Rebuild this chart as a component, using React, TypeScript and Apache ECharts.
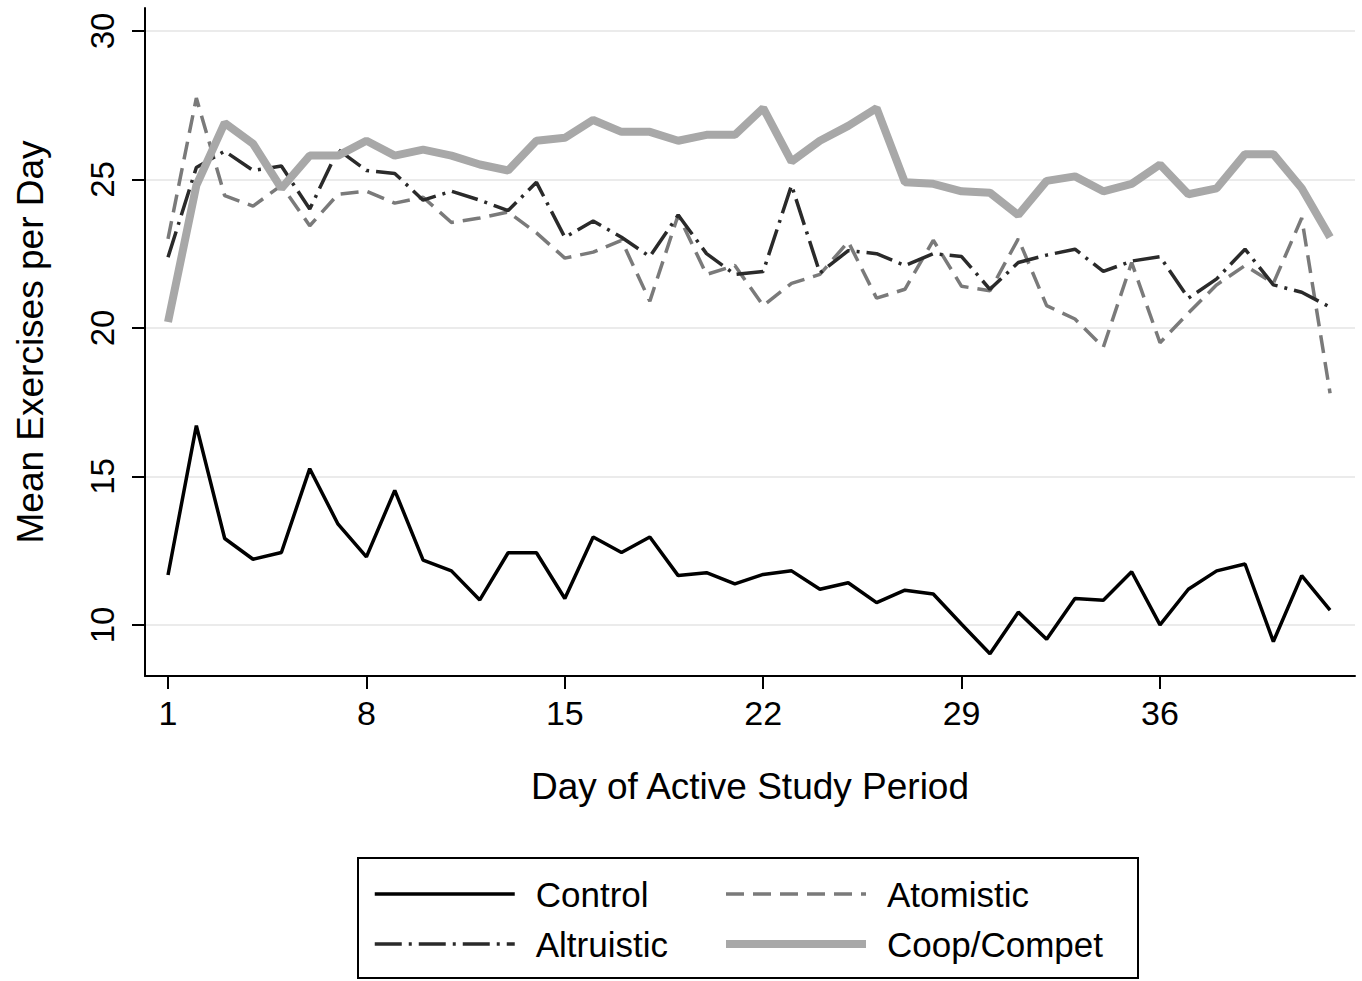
import React, { useEffect, useRef } from "react";
import * as echarts from "echarts";

const days = [1, 2, 3, 4, 5, 6, 7, 8, 9, 10, 11, 12, 13, 14, 15, 16, 17, 18, 19, 20, 21, 22, 23, 24, 25, 26, 27, 28, 29, 30, 31, 32, 33, 34, 35, 36, 37, 38, 39, 40, 41, 42];
const control = [11.68, 16.71, 12.91, 12.21, 12.44, 15.26, 13.39, 12.29, 14.53, 12.18, 11.82, 10.84, 12.43, 12.43, 10.89, 12.96, 12.44, 12.96, 11.66, 11.76, 11.38, 11.7, 11.82, 11.2, 11.42, 10.75, 11.17, 11.04, 10.02, 9.03, 10.43, 9.52, 10.89, 10.83, 11.79, 10.0, 11.2, 11.82, 12.05, 9.44, 11.66, 10.5];
const atomistic = [23.0, 27.74, 24.45, 24.1, 24.8, 23.44, 24.5, 24.6, 24.2, 24.4, 23.55, 23.7, 23.9, 23.2, 22.35, 22.55, 22.95, 20.9, 23.8, 21.8, 22.1, 20.75, 21.5, 21.8, 22.9, 21.0, 21.3, 22.95, 21.4, 21.25, 23.0, 20.75, 20.3, 19.35, 22.2, 19.5, 20.5, 21.45, 22.1, 21.5, 23.7, 17.8];
const altruistic = [22.38, 25.4, 25.95, 25.3, 25.45, 24.0, 26.0, 25.3, 25.2, 24.3, 24.6, 24.3, 23.95, 24.9, 23.05, 23.6, 23.05, 22.4, 23.8, 22.5, 21.8, 21.9, 24.8, 21.85, 22.6, 22.5, 22.1, 22.5, 22.4, 21.3, 22.2, 22.45, 22.65, 21.9, 22.25, 22.4, 21.0, 21.65, 22.65, 21.45, 21.2, 20.7];
const coop = [20.2, 24.8, 26.9, 26.2, 24.7, 25.8, 25.8, 26.3, 25.8, 26.0, 25.8, 25.5, 25.3, 26.3, 26.4, 27.0, 26.6, 26.6, 26.3, 26.5, 26.5, 27.4, 25.6, 26.3, 26.8, 27.4, 24.9, 24.85, 24.6, 24.55, 23.8, 24.95, 25.1, 24.6, 24.85, 25.5, 24.5, 24.7, 25.85, 25.85, 24.7, 23.05];

const xTicks = [1, 8, 15, 22, 29, 36];
const yTicks = [10, 15, 20, 25, 30];
const seriesNames = ["Control", "Atomistic", "Altruistic", "Coop/Compet"];

const FONT = "'Liberation Sans', Arial, Helvetica, sans-serif";

const styles: Record<string, any> = {
  Control: { color: "#000", width: 3.5, type: "solid" },
  Atomistic: { color: "#7a7a7a", width: 3.5, type: [18, 9] },
  Altruistic: { color: "#2a2a2a", width: 3.5, type: [27, 7, 3, 7] },
  "Coop/Compet": { color: "#a8a8a8", width: 8, type: "solid" },
};

export default function App() {
  const ref = useRef<HTMLDivElement>(null);
  useEffect(() => {
    document.body.style.margin = "0";
    if (!ref.current) return;
    const chart = echarts.init(ref.current, null, { renderer: "svg" });
    const pair = (arr: number[]) => days.map((d, i) => [d, arr[i]]);
    const legendText = {
      fontSize: 35,
      color: "#000",
      fontFamily: FONT,
      lineHeight: 36,
      padding: [0, 0, 0, 16],
    };
    const legendItem = (name: string) => ({
      name,
      itemStyle: { opacity: 0, borderWidth: 0 },
      lineStyle: { ...styles[name] },
    });
    const mkSeries = (name: string, arr: number[], z: number) => ({
      name,
      type: "line",
      data: pair(arr),
      symbol: "none",
      lineStyle: { ...styles[name] },
      itemStyle: { color: styles[name].color },
      z,
    });
    chart.setOption({
      animation: false,
      backgroundColor: "#fff",
      textStyle: { fontFamily: FONT },
      grid: { left: 145, right: 7, top: 8, bottom: 305, containLabel: false },
      xAxis: {
        type: "value",
        min: 0.188,
        max: 42.88,
        name: "Day of Active Study Period",
        nameLocation: "middle",
        nameGap: 92,
        nameTextStyle: { fontSize: 37, color: "#000", fontFamily: FONT },
        axisLine: { lineStyle: { color: "#000", width: 2 } },
        axisTick: { customValues: xTicks, length: 13, lineStyle: { color: "#000", width: 2 } },
        axisLabel: { customValues: xTicks, fontSize: 34, color: "#000", margin: 20, fontFamily: FONT },
        splitLine: { show: false },
      },
      yAxis: {
        type: "value",
        min: 8.28,
        max: 30.77,
        name: "Mean Exercises per Day",
        nameLocation: "middle",
        nameGap: 96,
        nameTextStyle: { fontSize: 37, color: "#000", fontFamily: FONT },
        axisLine: { show: true, lineStyle: { color: "#000", width: 2 } },
        axisTick: { show: true, customValues: yTicks, length: 13, lineStyle: { color: "#000", width: 2 } },
        axisLabel: { customValues: yTicks, rotate: 90, fontSize: 33, color: "#000", margin: 26, fontFamily: FONT },
        splitLine: { show: true, lineStyle: { color: "#ebebeb", width: 2 } },
      },
      legend: [
        {
          data: [legendItem(seriesNames[0]), legendItem(seriesNames[2])],
          orient: "vertical",
          left: 373,
          top: 876,
          padding: 0,
          itemWidth: 140,
          itemHeight: 36,
          itemGap: 14,
          textStyle: legendText,
          selectedMode: false,
        },
        {
          data: [legendItem(seriesNames[1]), legendItem(seriesNames[3])],
          orient: "vertical",
          left: 722,
          top: 876,
          padding: 0,
          itemWidth: 140,
          itemHeight: 36,
          itemGap: 14,
          textStyle: legendText,
          selectedMode: false,
        },
      ],
      graphic: [
        {
          type: "rect",
          shape: { x: 358, y: 858, width: 780, height: 120 },
          style: { fill: "none", stroke: "#000", lineWidth: 2 },
          silent: true,
        },
      ],
      series: [
        mkSeries(seriesNames[0], control, 2),
        mkSeries(seriesNames[1], atomistic, 3),
        mkSeries(seriesNames[2], altruistic, 4),
        mkSeries(seriesNames[3], coop, 5),
      ],
    });
    return () => chart.dispose();
  }, []);
  return <div ref={ref} style={{ width: 1362, height: 981 }} />;
}
